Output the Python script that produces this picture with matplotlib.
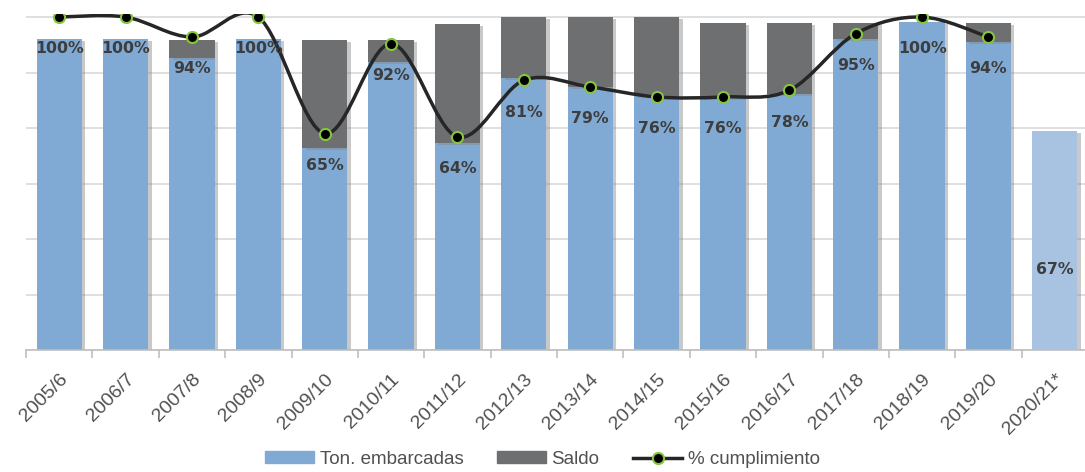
import numpy as np
import matplotlib
matplotlib.use("Agg")
import matplotlib.pyplot as plt
from matplotlib.path import Path
from matplotlib.patches import PathPatch, Patch
from matplotlib.lines import Line2D
import matplotlib.patheffects as pe

# Data (bar heights in gridline units)
seasons = ["2005/6", "2006/7", "2007/8", "2008/9", "2009/10", "2010/11", "2011/12",
           "2012/13", "2013/14", "2014/15", "2015/16", "2016/17", "2017/18",
           "2018/19", "2019/20", "2020/21*"]
embarcadas = [5.60, 5.60, 5.26, 5.60, 3.64, 5.19, 3.73, 4.90, 4.74, 4.58, 4.54,
              4.61, 5.60, 5.91, 5.55, 3.95]
cuota = [5.60, 5.60, 5.59, 5.60, 5.59, 5.59, 5.87, 6.00, 6.00, 6.00, 5.89, 5.89,
         5.89, 5.91, 5.89, 3.95]
cumplimiento = [100, 100, 94, 100, 65, 92, 64, 81, 79, 76, 76, 78, 95, 100, 94]
cumplimiento_parcial = 67  # 2020/21*, shown only as a label on the bar

saldo = [c - e for c, e in zip(cuota, embarcadas)]

BLUE = "#80a9d4"
BLUE_LIGHT = "#a8c3e1"
GREY = "#6e6f71"
TXT = "#3d3d3d"

fig = plt.figure(figsize=(10.85, 4.72), dpi=100)
ax = fig.add_axes([26 / 1085, 122 / 472, 1062 / 1085, 336.3 / 472])
ax2 = ax.twinx()

x = np.arange(len(seasons))
shadow = [pe.SimplePatchShadow(offset=(2.5, -1.5), shadow_rgbFace="#888888", alpha=0.45), pe.Normal()]

bar_colors = [BLUE] * (len(seasons) - 1) + [BLUE_LIGHT]
b1 = ax.bar(x, embarcadas, width=0.68, color=bar_colors, zorder=2)
b2 = ax.bar(x, saldo, bottom=embarcadas, width=0.68, color=GREY, zorder=2)
for p in list(b1) + list(b2):
    p.set_path_effects(shadow)

ax.set_xlim(-0.5, 15.5)
ax.set_ylim(0, 6 * 1.01)
ax.set_yticks(range(0, 7))
ax.yaxis.grid(True, color="#d9d9d9", linewidth=1.2, zorder=0)
ax.set_axisbelow(True)
ax.tick_params(axis="y", left=False, labelleft=False)
for s in ["left", "right", "top"]:
    ax.spines[s].set_visible(False)
ax.spines["bottom"].set_color("#bfbfbf")
ax.spines["bottom"].set_linewidth(1.2)

ax.set_xticks(x)
ax.set_xticklabels(seasons, rotation=45, ha="right", va="top", rotation_mode="anchor",
                   fontsize=14, color="#505050", family="Liberation Sans")
ax.tick_params(axis="x", which="major", length=0, pad=15)
ax.set_xticks(np.arange(-0.5, 16, 1), minor=True)
ax.tick_params(axis="x", which="minor", length=6, color="#bfbfbf", width=1.2)

# smoothed line (bezier through the points, like Excel's smoothed line)
xs = np.arange(len(cumplimiento))
ys = np.array(cumplimiento) / 100.0
pts = np.column_stack([xs, ys])
verts = [pts[0]]
codes = [Path.MOVETO]
for i in range(len(pts) - 1):
    p0 = pts[i - 1] if i > 0 else pts[i]
    p3 = pts[i + 2] if i + 2 < len(pts) else pts[i + 1]
    c1 = pts[i] + (pts[i + 1] - p0) / 6.0
    c2 = pts[i + 1] - (p3 - pts[i]) / 6.0
    verts += [c1, c2, pts[i + 1]]
    codes += [Path.CURVE4] * 3
curve = PathPatch(Path(verts, codes), fill=False, edgecolor="#262626", linewidth=2.5,
                  transform=ax2.transData, zorder=3)
ax2.add_patch(curve)
ax2.plot(xs, ys, linestyle="none", marker="o", markersize=8, markerfacecolor="black",
         markeredgecolor="#86c540", markeredgewidth=1.5, zorder=4)

ax2.set_ylim(0, 1.01)
ax2.set_yticks([])
for s in ax2.spines.values():
    s.set_visible(False)

for xi, v in zip(xs, cumplimiento):
    ax2.annotate(f"{v}%", (xi, v / 100.0), xytext=(0, -23), textcoords="offset points",
                 ha="center", va="center", fontsize=11.3, fontweight="bold", color=TXT,
                 family="DejaVu Sans", zorder=5)
ax.annotate(f"{cumplimiento_parcial}%", (x[-1], 0), xytext=(0, 57.6), textcoords="offset points",
            ha="center", va="center", fontsize=11.3, fontweight="bold", color=TXT,
            family="DejaVu Sans", zorder=5)

# legend
handles = [Patch(color=BLUE), Patch(color=GREY),
           Line2D([], [], color="#262626", lw=2.5, marker="o", markersize=8,
                  markerfacecolor="black", markeredgecolor="#86c540", markeredgewidth=1.5)]
fig.legend(handles, ["Ton. embarcadas", "Saldo", "% cumplimiento"], loc="lower center",
           bbox_to_anchor=(0.5, -0.027), ncol=3, frameon=False, handlelength=2.6,
           handleheight=0.6, handletextpad=0.3, columnspacing=1.8,
           prop={"family": "Liberation Sans", "size": 13.5}, labelcolor="#505050")

fig.savefig("out.png", dpi=100)
